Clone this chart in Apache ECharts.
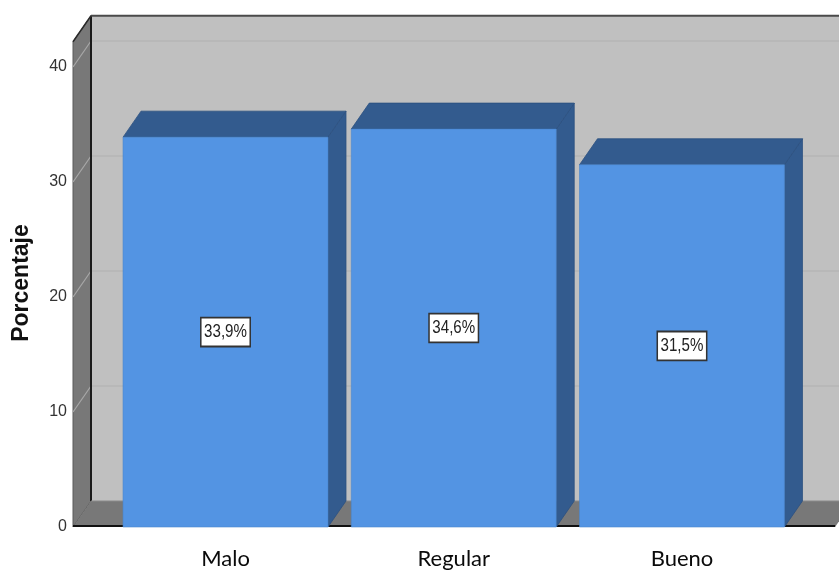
<!DOCTYPE html>
<html>
<head>
<meta charset="utf-8">
<script src="https://cdn.jsdelivr.net/npm/echarts@6/dist/echarts.min.js"></script>
<style>
  html, body { margin: 0; padding: 0; background: #ffffff; }
  #chart { width: 839px; height: 572px; }
</style>
</head>
<body>
<div id="chart"></div>
<script>
// Distribución por nivel (porcentaje)
const categories = ['Malo', 'Regular', 'Bueno'];
const percentages = [33.9, 34.6, 31.5];
const yTicks = [0, 10, 20, 30, 40];
const wallTop = 42.2;

// 3D depth offset of the box (pixels)
const DX = 18;
const DY = 26;

const chart = echarts.init(document.getElementById('chart'), null, { renderer: 'canvas' });

const fmt = v => v.toFixed(1).replace('.', ',') + '%';

function renderWalls(params, api) {
  const cs = params.coordSys;
  const y0 = api.coord([0, 0])[1];
  const yTop = api.coord([0, wallTop])[1];
  const fx = cs.x - 38.4;              // front-left corner of the box
  const bx = fx + DX;                  // back-left corner
  const rightEnd = cs.x + cs.width + 39;
  const farRight = rightEnd + DX + 40;
  const children = [];

  // back wall
  children.push({ type: 'rect', shape: { x: bx, y: yTop - DY, width: farRight - bx, height: y0 - yTop },
    style: { fill: '#c0c0c0' } });
  // left wall
  children.push({ type: 'polygon', shape: { points: [[fx, yTop], [bx, yTop - DY], [bx, y0 - DY], [fx, y0]] },
    style: { fill: '#787878', stroke: '#5a5a5a', lineWidth: 1 } });
  // floor
  children.push({ type: 'polygon', shape: { points: [[fx, y0], [bx, y0 - DY], [rightEnd + DX, y0 - DY], [rightEnd, y0]] },
    style: { fill: '#787878' } });

  // grid lines on back and left walls
  yTicks.forEach(v => {
    if (v === 0) return;
    const y = api.coord([0, v])[1];
    children.push({ type: 'line', shape: { x1: bx, y1: y - DY, x2: farRight, y2: y - DY },
      style: { stroke: '#afafaf', lineWidth: 1.2 } });
    children.push({ type: 'line', shape: { x1: fx, y1: y, x2: bx, y2: y - DY },
      style: { stroke: '#a8a8a8', lineWidth: 1.2 } });
  });

  // edges
  children.push({ type: 'line', shape: { x1: bx, y1: yTop - DY, x2: bx, y2: y0 - DY },
    style: { stroke: '#1a1a1a', lineWidth: 2 } });
  children.push({ type: 'line', shape: { x1: bx, y1: yTop - DY, x2: farRight, y2: yTop - DY },
    style: { stroke: '#4a4a4a', lineWidth: 2 } });
  children.push({ type: 'line', shape: { x1: fx, y1: yTop, x2: bx, y2: yTop - DY },
    style: { stroke: '#2a2a2a', lineWidth: 1.5 } });
  children.push({ type: 'line', shape: { x1: bx, y1: y0 - DY, x2: farRight, y2: y0 - DY },
    style: { stroke: '#8a8a8a', lineWidth: 1 } });
  children.push({ type: 'line', shape: { x1: fx, y1: y0 - 1, x2: rightEnd, y2: y0 - 1 },
    style: { stroke: '#111111', lineWidth: 2 } });

  return { type: 'group', children: children };
}

function renderBar(params, api) {
  const idx = api.value(0);
  const val = api.value(1);
  const top = api.coord([idx, val]);
  const base = api.coord([idx, 0]);
  const w = api.size([1, 0])[0] * 0.898;
  const x = top[0] - w / 2;
  const yT = top[1];
  const yB = base[1];
  return {
    type: 'group',
    children: [
      { type: 'polygon', shape: { points: [[x + w, yT], [x + w + DX, yT - DY], [x + w + DX, yB - DY], [x + w, yB]] },
        style: { fill: '#335b8e', stroke: '#2c5080', lineWidth: 0.8 } },
      { type: 'polygon', shape: { points: [[x, yT], [x + DX, yT - DY], [x + w + DX, yT - DY], [x + w, yT]] },
        style: { fill: '#335b8e', stroke: '#2c5080', lineWidth: 0.8 } },
      { type: 'rect', shape: { x: x, y: yT, width: w, height: yB - yT },
        style: { fill: '#5394e3', stroke: '#4a86cf', lineWidth: 0.6 } },
      { type: 'text', x: top[0], y: (yT + yB) / 2, scaleX: 0.84,
        style: { text: fmt(val), fill: '#222', fontSize: 18, fontFamily: 'Liberation Sans, Arial, sans-serif',
          align: 'center', verticalAlign: 'middle', backgroundColor: '#ffffff', borderColor: '#333333',
          borderWidth: 1.8, padding: [5, 3, 4, 3] } }
    ]
  };
}

chart.setOption({
  animation: false,
  backgroundColor: '#ffffff',
  grid: { left: 111.4, right: 42.9, top: 67, bottom: 45, containLabel: false, outerBoundsMode: 'none' },
  xAxis: {
    type: 'category',
    data: categories,
    axisLine: { show: false },
    axisTick: { show: false },
    splitLine: { show: false },
    axisLabel: { fontSize: 22, fontFamily: 'Lato, sans-serif', color: '#0a0a0a', margin: 21 }
  },
  yAxis: {
    type: 'value',
    min: 0, max: 40, interval: 10,
    offset: 38.4,
    name: 'Porcentaje',
    nameLocation: 'middle',
    nameRotate: 90,
    nameGap: 40,
    nameTextStyle: { fontSize: 23, fontWeight: 'bold', color: '#111', fontFamily: 'Liberation Sans, Arial, sans-serif',
      padding: [0, 0, 0, 28] },
    axisLine: { show: false },
    axisTick: { show: false },
    splitLine: { show: false },
    axisLabel: { fontSize: 16, color: '#333', margin: 6, fontFamily: 'Liberation Sans, Arial, sans-serif' }
  },
  series: [
    { type: 'custom', renderItem: renderWalls, data: [[0, 0]], clip: false, silent: true, z: 1 },
    { type: 'custom', renderItem: renderBar, data: percentages.map((v, i) => [i, v]), clip: false, z: 2 }
  ]
});
</script>
</body>
</html>
